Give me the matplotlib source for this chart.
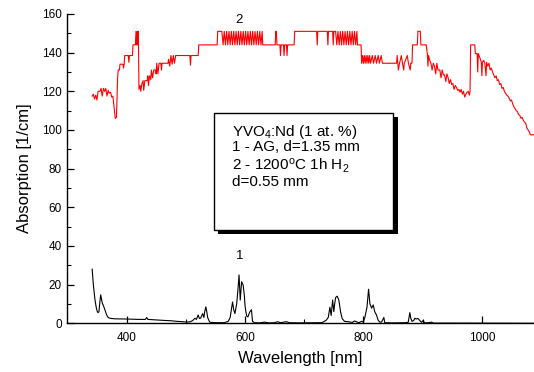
import numpy as np
import matplotlib.pyplot as plt
from matplotlib.patches import Rectangle

plt.rcParams['font.family'] = ['Liberation Sans', 'DejaVu Sans']
plt.rcParams['mathtext.fontset'] = 'custom'
plt.rcParams['mathtext.rm'] = 'Liberation Sans'
plt.rcParams['mathtext.it'] = 'Liberation Sans:italic'

# curve 1 - as grown, d=1.35 mm  (wavelength nm, absorption 1/cm)
as_grown = [
    (342, 28), (344, 20), (346.8, 12), (349, 8), (350.7, 6), (352, 5.5), (353.5, 6),
    (355, 11), (356.4, 14.7), (358, 12), (359.1, 10.4), (360.5, 9.5), (362, 8.3),
    (364, 6.5), (366.5, 4.3), (369, 3), (372, 2.6), (380, 2.3), (400, 2.2), (420, 2.0),
    (432, 2.0), (434, 3), (436, 2.0), (450, 1.7), (462, 1.5), (475, 1.3), (484.6, 1.0),
    (495, 0.8), (501.5, 0.6), (508, 0.8), (512, 1.5), (515.5, 2.6), (518, 2.0),
    (521, 4.3), (523, 2.5), (525, 2.6), (528.5, 5), (530.7, 3), (532, 6), (534, 8.5),
    (535.5, 6), (537, 3), (539, 1.5), (541, 0.5), (550, 0.3), (565, 0.3), (571.8, 1),
    (575, 3), (579, 11), (581, 7), (583, 5), (586, 10), (588, 17), (590, 25), (592, 12),
    (594.3, 21.5), (597, 19.7), (599, 14), (600, 9.5), (601.5, 6), (603, 3.7),
    (605, 3.3), (607, 5), (608.4, 6), (611, 7), (612.7, 1), (616, 0.3), (625, 0.2),
    (633, 0.6), (640, 0.2), (650, 0.3), (655, 0.8), (660, 0.3), (670, 0.8), (675, 0.3),
    (690, 0.2), (730, 0.3), (737, 1.5), (740.6, 3), (743.4, 8.3), (745.5, 4), (748, 12),
    (750, 6), (751.5, 10), (753, 13.3), (755.7, 14), (758.5, 12), (760, 9), (761.4, 6),
    (764, 2.5), (768, 1), (775, 0.8), (781, 0.4), (785, 1.2), (788, 0.8), (792, 0.3),
    (797, 1), (800, 0.6), (802.4, 3), (806, 8.3), (808.7, 17.6), (811, 10),
    (813.8, 7.8), (816.6, 9.5), (819, 6), (822, 4.3), (825, 1.5), (828, 0.5),
    (830.7, 0.7), (834.5, 3), (836, 0.3), (850, 0.2), (870, 0.3), (875.6, 0.5),
    (878.4, 5.5), (880, 2.5), (882, 1), (885, 1.5), (887, 2.6), (889, 2.2), (892, 2.5),
    (895, 1.5), (898, 0.5), (901, 1.5), (903, 0.2), (910, 0.3), (915, 0.6), (918, 0.1),
    (950, 0.1), (1088, 0.0),
]

# curve 2 - 1200 C 1h H2, d=0.55 mm
annealed = [
    (342, 117.5), (344, 118.5), (346, 116), (348, 118), (350, 115.5), (352, 120),
    (355, 120), (357, 121.5), (359, 117.5), (361, 121.5), (363, 120), (365, 121.5),
    (367, 117.5), (369, 120.5), (371, 119), (373, 119.5), (375, 117), (377, 117.5),
    (379, 112), (381, 106), (383, 106.5), (385, 127), (386, 131), (388, 131),
    (389, 134), (394, 134), (395, 132), (396, 134), (397, 138.5), (403, 138.5),
    (404, 135), (405, 138.5), (410, 138.5), (411, 144), (415, 144), (416, 151),
    (417, 144), (418, 151), (419, 144), (420, 151), (421, 121), (423, 123), (424, 120),
    (426, 124), (428, 125.5), (429, 120.5), (431, 125.5), (435, 125.5), (436, 128),
    (437, 123), (439, 128), (441, 126), (442, 131), (444, 127), (446, 131), (449, 131),
    (450, 129), (451, 134.5), (453, 129), (455, 134.5), (458, 134.5), (459, 131),
    (460, 134.5), (470, 134.5), (471, 136.5), (473, 133), (475, 138.5), (477, 134),
    (479, 138.5), (481, 134.5), (483, 138.5), (507, 138.5), (508, 133.5), (509, 138.5),
    (521, 138.5), (522, 144), (553, 144), (554, 151), (561, 151),
    (563, 144), (565, 151), (567, 144), (569, 151), (571, 144), (573, 151), (575, 144),
    (577, 151), (579, 144), (581, 151), (583, 144), (585, 151), (587, 144), (589, 151),
    (591, 144), (593, 151), (595, 144), (597, 151), (599, 144), (601, 151), (603, 144),
    (605, 151), (607, 144), (609, 151), (611, 144), (613, 151), (615, 144), (617, 151),
    (619, 144), (621, 151), (623, 144), (625, 151), (627, 144), (629, 151), (630, 144),
    (651, 144), (652, 151), (653, 151), (654, 144), (659, 144), (660, 138.5),
    (661, 144), (665, 144), (666, 138.5), (667, 144), (670, 144), (671, 138.5),
    (672, 144), (683, 144), (684, 151), (721, 151), (722, 144), (723, 151), (739, 151),
    (740, 144), (741, 151), (748, 151), (749, 144), (750, 151), (753, 151),
    (755, 144), (757, 151), (759, 144), (761, 151), (763, 144), (765, 151), (767, 144),
    (769, 151), (771, 144), (773, 151), (775, 144), (777, 151), (779, 144), (781, 151),
    (783, 144), (785, 151), (787, 144), (789, 151), (790, 144), (796, 144),
    (797, 134.5), (798.5, 138.5), (800, 134.5), (801.5, 138.5), (803, 134.5),
    (804.5, 138.5), (806, 134.5), (807.5, 138.5), (809, 134.5), (810.5, 138.5),
    (812, 134.5), (815, 138.5), (817, 134.5), (820, 138.5), (822, 134.5), (825, 138.5),
    (827, 134.5), (830, 138.5), (832, 134.5), (856, 134.5), (857, 138.5), (859, 131),
    (861, 134.5), (864, 138.5), (866, 134.5), (868, 131), (869, 134.5), (874, 138.5),
    (876, 134.5), (879, 131), (880, 134.5), (882, 134.5), (883, 144), (891, 144),
    (892, 151), (896, 151), (897, 144), (906, 144), (908, 139), (909, 133),
    (910, 138.5), (912, 136), (914, 134.5), (916, 131), (918, 134.5), (920, 133),
    (922, 129), (924, 134.5), (926, 131), (929, 131), (931, 127), (933, 131),
    (935, 128.5), (937, 128.5), (939, 125), (941, 129), (943, 127), (945, 124),
    (947, 126), (949, 123.5), (951, 124), (953, 121), (955, 123), (957, 122),
    (959, 120.5), (961, 121), (963, 119.5), (965, 121), (967, 118.5), (969, 120),
    (971, 117), (973, 118.5), (975, 119.5), (977, 120), (979, 118), (980, 120),
    (981, 144), (988, 144), (989, 139.5), (992, 139.5), (993, 130), (994, 139.5),
    (997, 137), (999, 135), (1000, 128), (1001, 135), (1003, 136), (1005, 134.5),
    (1007, 128), (1008, 135), (1010, 133), (1012, 134.5), (1014, 131), (1016, 132),
    (1018, 130), (1020, 128.5), (1022, 127), (1024, 128), (1026, 125.5), (1028, 126),
    (1030, 123.5), (1032, 124), (1034, 121.5), (1036, 122), (1038, 120), (1040, 119),
    (1042, 118), (1044, 117.5), (1046, 116.5), (1048, 115), (1050, 115.5),
    (1052, 113.5), (1054, 112), (1056, 111), (1058, 110), (1060, 109.5), (1062, 108),
    (1064, 107.5), (1066, 106), (1068, 106.5), (1070, 105), (1072, 104), (1074, 103.5),
    (1076, 101), (1078, 100), (1080, 99), (1082, 97.5), (1084, 97.5), (1088, 97.5),
]

legend_lines = ['YVO$_4$:Nd (1 at. %)', '1 - AG, d=1.35 mm',
                '2 - 1200$^{\\mathrm{o}}$C 1h H$_2$', 'd=0.55 mm']

x1, y1 = np.array(as_grown).T
x2, y2 = np.array(annealed).T

fig = plt.figure(figsize=(5.34, 3.72), dpi=100)
ax = fig.add_axes([0.126, 0.131, 0.874, 0.8315])

ax.plot(x1, y1, color='black', lw=0.8)
ax.plot(x2, y2, color='red', lw=0.8)

ax.set_xlim(300, 1088)
ax.set_ylim(0, 160)
ax.spines['top'].set_visible(False)
ax.spines['right'].set_visible(False)
ax.spines['left'].set_linewidth(1.0)
ax.spines['bottom'].set_linewidth(1.0)

ax.set_xticks([400, 600, 800, 1000])
ax.set_xticks([500, 700, 900], minor=True)
ax.set_yticks(np.arange(0, 161, 20))
ax.set_yticks(np.arange(10, 160, 20), minor=True)
ax.tick_params(which='major', direction='in', length=5, width=0.9, labelsize=8.5, pad=4)
ax.tick_params(which='minor', direction='in', length=3, width=0.8)
ax.tick_params(axis='x', pad=6)

ax.set_xlabel('Wavelength [nm]', fontsize=12, labelpad=5)
ax.set_ylabel('Absorption [1/cm]', fontsize=12, labelpad=7)

ax.text(590, 157, '2', fontsize=9.5, ha='center', va='center')
ax.text(591, 35, '1', fontsize=9.5, ha='center', va='center')

# text box with shadow (figure pixel -> fraction)
W, H = 534, 372
fig.patches.append(Rectangle((218 / W, 1 - 234 / H), (398 - 218) / W, (234 - 117) / H,
                             transform=fig.transFigure, facecolor='black',
                             edgecolor='none', zorder=5))
fig.patches.append(Rectangle((214 / W, 1 - 230 / H), (393.3 - 214) / W, (230 - 113.3) / H,
                             transform=fig.transFigure, facecolor='white',
                             edgecolor='black', lw=1.0, zorder=6))
for txt, ypix in zip(legend_lines, [136, 151, 170.5, 186]):
    fig.text(232 / W, 1 - ypix / H, txt, fontsize=11, ha='left', va='baseline', zorder=7)

fig.savefig('out.png', dpi=100)
